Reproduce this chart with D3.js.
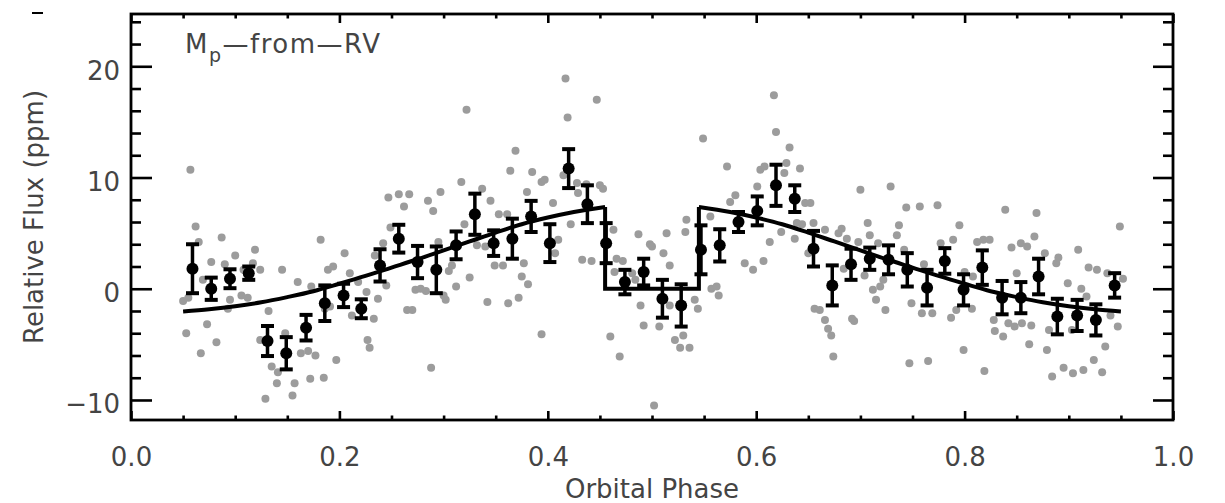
<!DOCTYPE html>
<html>
<head>
<meta charset="utf-8">
<script src="https://cdn.jsdelivr.net/npm/d3@7"></script>
<style>
  body { margin: 0; background: #fff; }
  svg { display: block; }
  text { font-family: "DejaVu Sans", sans-serif; fill: #444; }
</style>
</head>
<body>
<svg id="canvas" width="1225" height="503"></svg>
<script>
// ---------------- data ----------------
// binned points (black, with error bars)
var binPhase = [0.059,0.077,0.095,0.113,0.131,0.149,0.168,0.186,0.204,0.221,
                0.239,0.257,0.275,0.293,0.312,0.330,0.348,0.366,0.384,0.402,
                0.420,0.438,0.456,0.474,0.492,0.510,0.528,0.547,0.565,0.583,
                0.601,0.619,0.637,0.655,0.673,0.691,0.709,0.727,0.745,0.764,
                0.781,0.799,0.817,0.836,0.854,0.871,0.889,0.908,0.926,0.944];
var binFlux  = [1.8,0.0,0.9,1.4,-4.7,-5.8,-3.5,-1.3,-0.6,-1.8,
                2.1,4.5,2.4,1.7,3.9,6.7,4.1,4.5,6.5,4.1,
                10.8,7.6,4.1,0.6,1.5,-0.9,-1.5,3.5,3.9,6.0,
                7.0,9.3,8.1,3.6,0.3,2.2,2.7,2.6,1.7,0.1,
                2.5,-0.1,1.9,-0.8,-0.8,1.1,-2.5,-2.4,-2.8,0.3];
var binErr   = [2.2,1.0,0.85,0.6,1.35,1.45,1.15,1.6,1.05,0.85,
                1.45,1.25,1.45,2.1,1.25,1.85,1.15,1.8,1.4,1.7,
                1.75,1.7,1.8,1.1,1.2,1.7,1.9,2.2,1.45,0.9,
                1.3,1.85,1.2,1.6,1.8,1.4,1.0,1.3,1.5,1.6,
                1.15,1.4,1.55,1.5,1.4,1.6,1.6,1.4,1.4,1.1];

// unbinned points (grey)
var rawPhase = [0.050,0.053,0.055,0.057,0.062,0.065,0.067,0.069,0.073,0.077,0.082,0.087,0.090,0.093,0.095,0.100,
  0.106,0.108,0.112,0.117,0.119,0.124,0.124,0.129,0.132,0.135,0.140,0.141,0.145,0.148,0.155,0.157,0.160,0.163,
  0.170,0.172,0.173,0.177,0.182,0.185,0.186,0.189,0.191,0.194,0.197,0.205,0.210,0.212,
  0.218,0.226,0.227,0.229,0.233,0.234,0.237,0.242,0.245,0.247,0.249,0.257,0.262,0.265,0.267,0.270,0.273,0.278,
  0.283,0.285,0.288,0.290,0.295,0.297,0.300,0.302,0.305,0.308,0.312,0.317,0.320,0.322,0.325,0.332,0.337,0.340,
  0.342,0.345,0.349,0.353,0.357,0.361,0.362,0.364,0.369,0.372,0.375,0.377,0.380,0.381,0.385,
  0.394,0.397,0.394,0.405,0.407,0.410,0.415,0.417,0.419,0.422,0.428,0.429,0.433,0.437,0.442,0.447,0.450,0.453,
  0.460,0.463,0.464,0.466,0.469,0.472,0.481,0.484,0.487,0.489,0.492,0.498,0.500,0.502,0.507,0.511,0.514,0.517,
  0.517,0.522,0.527,0.530,0.532,0.533,0.536,0.541,0.544,0.549,0.556,0.557,
  0.562,0.564,0.572,0.575,0.580,0.589,0.597,0.601,0.604,0.607,0.608,0.613,0.617,0.619,0.624,0.627,0.629,0.632,
  0.637,0.639,0.642,0.644,0.647,0.650,0.652,0.655,0.656,0.661,0.666,0.666,0.669,0.672,0.674,0.679,0.682,0.684,
  0.687,0.692,0.694,0.698,0.700,0.704,0.707,0.709,0.712,0.715,0.717,0.719,0.722,0.724,0.729,
  0.735,0.737,0.742,0.744,0.747,0.749,0.757,0.759,0.761,0.765,0.769,0.774,0.777,0.787,0.789,0.792,0.795,0.799,
  0.800,0.807,0.808,0.812,0.818,0.819,0.824,0.828,0.829,0.837,0.839,0.842,0.845,0.848,0.850,0.854,0.855,0.860,
  0.862,0.864,0.867,0.869,0.877,0.879,0.881,0.884,0.888,0.890,0.895,0.899,0.903,0.904,0.909,0.912,0.914,0.917,
  0.919,0.924,0.927,0.932,0.935,0.937,0.940,0.947,0.949,0.952];
var rawFlux = [-1.1,-4.0,-0.8,10.7,5.6,4.2,-5.8,0.8,-3.2,2.4,-4.8,4.6,2.2,-1.8,-1.0,3.0,
  -0.6,1.7,-0.8,2.3,3.5,1.7,-4.6,-9.9,-2.0,-7.0,-8.5,-7.5,1.7,-4.0,-9.6,-8.5,0.6,-5.8,
  -5.6,-8.1,0.2,-6.0,4.4,-8.0,-1.8,1.7,-1.6,2.0,-6.4,3.2,1.4,-2.4,
  0.6,-0.3,-4.6,-5.3,-2.7,3.0,-0.9,4.1,0.3,8.2,5.5,8.5,7.4,-1.9,8.5,-1.9,-0.1,0.0,
  -0.2,7.9,-7.1,7.0,4.2,8.7,-0.6,-1.0,1.6,2.1,0.2,9.6,5.8,16.1,1.0,3.9,9.0,3.8,
  -1.2,7.9,2.1,6.7,2.1,6.7,-1.3,10.6,12.4,-0.8,1.1,2.3,8.7,0.4,10.5,
  9.6,9.8,-4.1,7.7,3.2,4.4,10.2,18.9,15.4,5.8,9.5,8.6,2.6,9.4,2.5,17.0,9.3,9.0,
  -4.3,5.3,1.5,2.7,-6.1,2.5,1.4,0.8,4.9,-1.5,-3.3,4.0,3.8,-10.5,-3.4,3.2,5.0,2.1,
  -1.5,-4.6,-5.3,-4.2,5.1,6.2,-5.3,-1.0,-1.8,13.5,6.5,0.0,
  0.2,-0.6,11.0,7.8,8.4,2.3,1.7,9.2,10.7,2.5,11.0,4.2,17.4,14.1,5.1,10.4,11.3,12.7,
  4.5,5.9,10.8,5.8,7.7,3.2,7.7,5.9,-1.8,-1.9,5.3,-2.8,-3.6,-4.2,-6.1,5.0,5.4,1.8,
  4.5,-2.7,-2.9,4.2,8.9,1.2,5.9,4.8,-0.1,-1.0,4.1,0.2,0.8,-1.9,9.2,
  4.8,5.7,3.5,7.3,-6.7,-1.3,7.4,-2.2,2.2,-6.5,-2.2,7.5,4.1,-2.6,4.4,-1.9,5.7,-5.5,
  1.5,-1.8,1.1,4.2,4.4,-7.4,4.4,-2.8,-3.8,-4.3,7.1,-3.1,3.7,-3.4,1.4,4.1,-3.1,3.8,
  -5.0,-3.3,4.7,6.8,3.2,-5.5,-3.7,-7.9,2.3,2.8,-7.1,0.5,-3.7,-7.6,3.5,0.0,-7.3,-0.7,
  1.9,-6.4,1.7,-7.5,-5.2,1.4,-2.4,-3.4,5.6,0.9];

// model curve (eclipse between 0.455 and 0.545)
var modelPhase = [0.050,0.075,0.100,0.125,0.150,0.175,0.200,0.225,0.250,0.275,0.300,0.325,0.350,0.375,0.400,0.425,0.455,
                  0.455,0.545,
                  0.545,0.575,0.600,0.625,0.650,0.675,0.700,0.725,0.750,0.775,0.800,0.825,0.850,0.875,0.900,0.925,0.950];
var modelFlux  = [-2.05,-1.85,-1.58,-1.22,-0.75,-0.22,0.45,1.15,1.90,2.65,3.45,4.25,5.05,5.80,6.40,6.90,7.35,
                  0,0,
                  7.35,6.90,6.40,5.80,5.05,4.25,3.45,2.65,1.90,1.15,0.45,-0.22,-0.75,-1.22,-1.58,-1.85,-2.05];

var xMajorTicks = [0.0,0.2,0.4,0.6,0.8,1.0];
var xMinorTicks = [0.05,0.1,0.15,0.25,0.3,0.35,0.45,0.5,0.55,0.65,0.7,0.75,0.85,0.9,0.95];
var yMajorTicks = [-10,0,10,20];
var yMinorTicks = [-8,-6,-4,-2,2,4,6,8,12,14,16,18,22,24];

// ---------------- layout ----------------
var plotLeft = 131, plotRight = 1173, plotTop = 14, plotBottom = 420;
var svg = d3.select('#canvas');

var xScale = d3.scaleLinear().domain([0, 1]).range([plotLeft, plotRight]);
var yScale = d3.scaleLinear().domain([-11.8, 24.7]).range([plotBottom, plotTop]);

// ---------------- marks ----------------
svg.append('g').selectAll('circle').data(rawPhase).enter().append('circle')
  .attr('cx', function(d) { return xScale(d); })
  .attr('cy', function(d, i) { return yScale(rawFlux[i]); })
  .attr('r', 4)
  .attr('fill', '#9c9c9c');

// model: left arc, eclipse box, right arc
var lineGen = d3.line().x(function(d) { return xScale(d[0]); }).y(function(d) { return yScale(d[1]); });
var modelPts = modelPhase.map(function(p, i) { return [p, modelFlux[i]]; });
var cutA = 0, cutB = 0;
for (var i = 1; i < modelPhase.length; i++) {
  if (modelPhase[i] === modelPhase[i-1]) { if (!cutA) cutA = i; else cutB = i; }
}
var segs = [
  { pts: modelPts.slice(0, cutA), curve: d3.curveMonotoneX },
  { pts: modelPts.slice(cutA - 1, cutB + 1), curve: d3.curveLinear },
  { pts: modelPts.slice(cutB), curve: d3.curveMonotoneX }
];
segs.forEach(function(s) {
  svg.append('path')
    .attr('d', lineGen.curve(s.curve)(s.pts))
    .attr('fill', 'none').attr('stroke', '#000')
    .attr('stroke-width', 4).attr('stroke-linejoin', 'miter');
});

// binned points with error bars
var bins = svg.append('g');
binPhase.forEach(function(p, i) {
  var cx = xScale(p), lo = yScale(binFlux[i] - binErr[i]), hi = yScale(binFlux[i] + binErr[i]);
  bins.append('line').attr('x1', cx).attr('x2', cx).attr('y1', lo).attr('y2', hi)
    .attr('stroke', '#000').attr('stroke-width', 3.5);
  [lo, hi].forEach(function(yy) {
    bins.append('line').attr('x1', cx - 6.5).attr('x2', cx + 6.5).attr('y1', yy).attr('y2', yy)
      .attr('stroke', '#000').attr('stroke-width', 4);
  });
  bins.append('circle').attr('cx', cx).attr('cy', yScale(binFlux[i])).attr('r', 6).attr('fill', '#000');
});

// ---------------- axes ----------------
function styleAxis(g) {
  g.select('.domain').remove();
  g.selectAll('.tick line').attr('stroke', '#000').attr('stroke-width', 2.6);
  g.selectAll('.tick text').attr('font-size', 26).attr('fill', '#444')
    .attr('font-family', '"DejaVu Sans", sans-serif');
}
var noLabel = function() { return ''; };

svg.append('g').attr('transform', 'translate(0,' + plotBottom + ')')
  .call(d3.axisBottom(xScale).tickValues(xMajorTicks).tickSize(-9).tickPadding(28).tickFormat(d3.format('.1f')))
  .call(styleAxis);
svg.append('g').attr('transform', 'translate(0,' + plotBottom + ')')
  .call(d3.axisBottom(xScale).tickValues(xMinorTicks).tickSize(-4.5).tickFormat(noLabel)).call(styleAxis);
svg.append('g').attr('transform', 'translate(0,' + plotTop + ')')
  .call(d3.axisTop(xScale).tickValues(xMajorTicks).tickSize(-9).tickFormat(noLabel)).call(styleAxis);
svg.append('g').attr('transform', 'translate(0,' + plotTop + ')')
  .call(d3.axisTop(xScale).tickValues(xMinorTicks).tickSize(-4.5).tickFormat(noLabel)).call(styleAxis);

var yLeft = svg.append('g').attr('transform', 'translate(' + plotLeft + ',0)')
  .call(d3.axisLeft(yScale).tickValues(yMajorTicks).tickSize(-21).tickPadding(11).tickFormat(d3.format('d')))
  .call(styleAxis);
yLeft.selectAll('.tick text').attr('dy', '0.5em');
svg.append('g').attr('transform', 'translate(' + plotLeft + ',0)')
  .call(d3.axisLeft(yScale).tickValues(yMinorTicks).tickSize(-10).tickFormat(noLabel)).call(styleAxis);
svg.append('g').attr('transform', 'translate(' + plotRight + ',0)')
  .call(d3.axisRight(yScale).tickValues(yMajorTicks).tickSize(-20).tickFormat(noLabel)).call(styleAxis);
svg.append('g').attr('transform', 'translate(' + plotRight + ',0)')
  .call(d3.axisRight(yScale).tickValues(yMinorTicks).tickSize(-10).tickFormat(noLabel)).call(styleAxis);

// frame
svg.append('rect').attr('x', plotLeft).attr('y', plotTop)
  .attr('width', plotRight - plotLeft).attr('height', plotBottom - plotTop)
  .attr('fill', 'none').attr('stroke', '#000').attr('stroke-width', 2.8);

// ---------------- text ----------------
svg.append('text').attr('x', (plotLeft + plotRight) / 2).attr('y', 498)
  .attr('text-anchor', 'middle').attr('font-size', 26).text('Orbital Phase');
svg.append('text').attr('transform', 'translate(43,' + ((plotTop + plotBottom) / 2) + ') rotate(-90)')
  .attr('text-anchor', 'middle').attr('font-size', 26).text('Relative Flux (ppm)');

var tag = svg.append('text').attr('x', 185).attr('y', 53).attr('font-size', 26).attr('letter-spacing', 1.5);
tag.append('tspan').text('M');
tag.append('tspan').attr('font-size', 19).attr('dy', 9).text('p');
tag.append('tspan').attr('dy', -9).text('\u2014from\u2014RV');

// clipped remnant at the top left edge
svg.append('line').attr('x1', 32).attr('x2', 43).attr('y1', 13).attr('y2', 13)
  .attr('stroke', '#000').attr('stroke-width', 2);
</script>
</body>
</html>
